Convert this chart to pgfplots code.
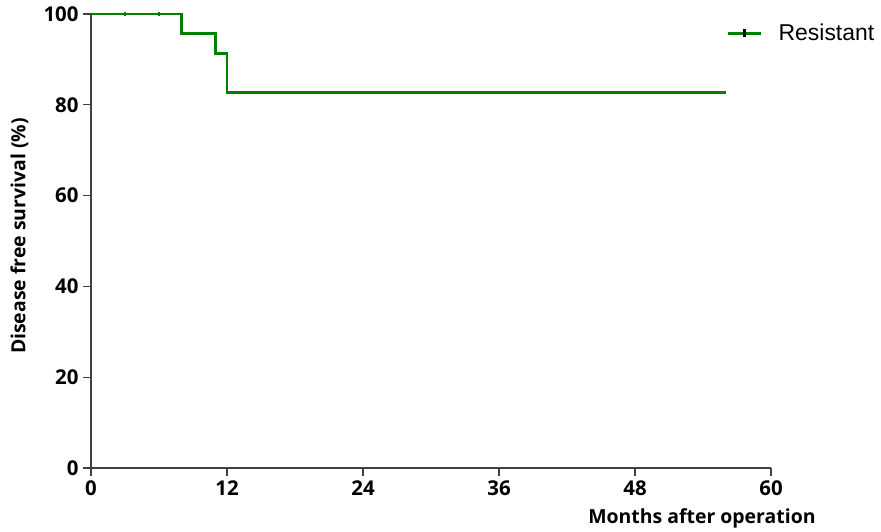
\documentclass[border=0pt]{standalone}
\usepackage{fontspec}
\setmainfont{Open Sans}
\newfontfamily\arialfont{Liberation Sans}
\usepackage{pgfplots}
\pgfplotsset{compat=1.18}
\definecolor{kmgreen}{RGB}{0,128,0}
\definecolor{axgray}{RGB}{64,64,64}
\begin{document}
\begin{tikzpicture}
\path (0,0) rectangle (881bp,531bp);
\begin{axis}[
  at={(91bp,63bp)}, anchor=south west,
  scale only axis, width=680bp, height=454bp,
  xmin=0, xmax=60, ymin=0, ymax=100,
  axis x line*=bottom, axis y line*=left,
  axis line style={axgray, line width=1.2bp, -},
  xtick={0,12,24,36,48,60}, ytick={0,20,40,60,80,100},
  tick align=outside, major tick length=8bp,
  tick style={axgray, line width=1.2bp},
  /pgf/number format/assume math mode=true,
  ticklabel style={font=\fontsize{20.5}{23}\selectfont\bfseries},
  xticklabel style={yshift=-1bp},
  yticklabel style={xshift=-1bp},
  xlabel={Months after operation},
  xlabel style={font=\fontsize{19.5}{22}\selectfont\bfseries, at={(axis description cs:0.8985,0)}, anchor=north, yshift=-37bp},
  ylabel={Disease free survival (\%)},
  ylabel style={font=\fontsize{19.5}{22}\selectfont\bfseries, at={(axis description cs:-0.105,0.511)}, anchor=center, rotate=0},
  legend style={at={(axis description cs:0.935,0.958)}, anchor=west, draw=none, fill=none,
    font=\fontsize{23}{25}\selectfont\arialfont, inner sep=0pt, outer sep=0pt},
  legend cell align=left,
  clip=false,
]
\addplot[kmgreen, line width=2.9bp, const plot, forget plot] coordinates {
  (0,100) (8,95.65) (11,91.30) (12,82.61) (56,82.61)
};
\addplot[kmgreen, only marks, mark=|, mark size=1.8bp, mark options={line width=1.2bp}, forget plot] coordinates {
  (3,100) (6,100)
};
\addlegendimage{legend image code/.code={
  \draw[kmgreen, line width=2.9bp] (0bp,0bp) -- (33bp,0bp);
  \draw[black, line width=2.9bp] (16.5bp,-4bp) -- (16.5bp,4bp);
}}
\addlegendentry{\hspace{14bp}Resistant}
\end{axis}
\end{tikzpicture}
\end{document}
